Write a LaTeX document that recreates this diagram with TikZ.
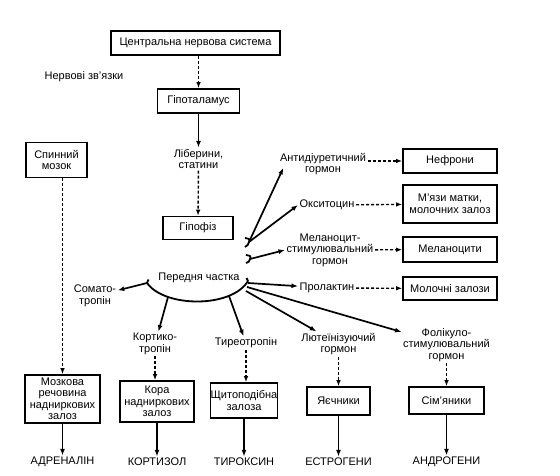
\documentclass[tikz,border=0pt]{standalone}
\usepackage{fontspec}
\setmainfont{Liberation Sans}
\usetikzlibrary{positioning, arrows.meta}

\begin{document}
\begin{tikzpicture}[
        x=1pt, y=-1pt,
        font=\fontsize{11}{11.5}\selectfont,
        box/.style={rectangle, draw=black, line width=1.6pt, fill=white, align=center, inner sep=0pt},
        lbl/.style={align=center, inner sep=1.5pt},
        arrow/.style={-{Latex[length=6.5pt,width=5pt]}, line width=1.7pt},
        dasharrow/.style={-{Latex[length=6pt,width=4.5pt]}, line width=1.4pt, dash pattern=on 3pt off 2pt},
        lobe/.style={line width=1.8pt}
        ]
        \useasboundingbox (0,0) rectangle (560,476);

        % top of the chain
        \node[box, minimum width=169pt, minimum height=24pt] (cns) at (195.5,43) {Центральна нервова система};
        \node[lbl] (nerv) at (84,77) {Нервові зв’язки};
        \node[box, minimum width=82pt, minimum height=24pt] (hypo) at (198.5,101) {Гіпоталамус};
        \node[lbl] (liber) at (198.5,159) {Ліберини,\\статини};
        \node[box, minimum width=70pt, minimum height=23pt] (hypoph) at (198,228) {Гіпофіз};
        \node[box, minimum width=61pt, minimum height=35pt] (spinal) at (56.5,160) {Спинний\\мозок};

        % posterior lobe targets
        \node[lbl] (adh) at (323,164) {Антидіуретичний\\гормон};
        \node[lbl] (oxy) at (327,205) {Окситоцин};
        \node[lbl] (msh) at (330,250) {Меланоцит-\\стимулювальний\\гормон};
        \node[lbl] (prl) at (327,288) {Пролактин};
        \node[box, minimum width=94pt, minimum height=24pt] (nefr) at (450,161) {Нефрони};
        \node[box, minimum width=94pt, minimum height=38pt] (myaz) at (450,204) {М’язи матки,\\молочних залоз};
        \node[box, minimum width=94pt, minimum height=25pt] (melan) at (450,249.5) {Меланоцити};
        \node[box, minimum width=94pt, minimum height=23pt] (moloch) at (450,288.5) {Молочні залози};

        % anterior lobe
        \node[lbl] (anter) at (199,278) {Передня частка};
        \node[lbl] (somato) at (95,296) {Сомато-\\тропін};
        \node[lbl] (cort) at (155,344) {Кортико-\\тропін};
        \node[lbl] (tyreo) at (246,343) {Тиреотропін};
        \node[lbl] (lut) at (338.5,344) {Лютеїнізуючий\\гормон};
        \node[lbl] (fol) at (446.5,345) {Фолікуло-\\стимулювальний\\гормон};

        % glands
        \node[box, minimum width=75pt, minimum height=48pt] (mozk) at (62.5,399) {Мозкова\\речовина\\надниркових\\залоз};
        \node[box, minimum width=74pt, minimum height=41pt] (kora) at (157,401.5) {Кора\\надниркових\\залоз};
        \node[box, minimum width=66pt, minimum height=35pt] (shchyt) at (244,400.5) {Щитоподібна\\залоза};
        \node[box, minimum width=63pt, minimum height=28pt] (yaye) at (338.5,401) {Яєчники};
        \node[box, minimum width=75pt, minimum height=27pt] (simya) at (446.5,400.5) {Сім’яники};

        % hormones
        \node[lbl] (adren) at (62.5,462) {АДРЕНАЛІН};
        \node[lbl] (kortiz) at (157,462) {КОРТИЗОЛ};
        \node[lbl] (tyrox) at (244,462) {ТИРОКСИН};
        \node[lbl] (estr) at (338.5,462) {ЕСТРОГЕНИ};
        \node[lbl] (andr) at (446.5,462) {АНДРОГЕНИ};

        % lobe shapes
        \coordinate (antL) at (147,283);
        \coordinate (antR) at (248,281);
        \draw[lobe] (antL) .. controls (165,308) and (232,308) .. (antR);
        \draw[lobe] (antL) -- ++(1.5,-3.5);
        \draw[lobe] (antR) -- ++(-1.5,-3);
        \coordinate (hook1) at (249,242);
        \coordinate (hook2) at (250,259);
        \draw[lobe] (245,238) .. controls (250,239) .. (hook1) .. controls (248,245) .. (245,247);
        \draw[lobe] (246,255) .. controls (251,256) .. (hook2) .. controls (249,262) .. (246,263);
        \coordinate (cortS) at (168,297);
        \coordinate (tyreoS) at (229,296);
        \coordinate (prlS) at (248,283);
        \coordinate (folS) at (247,287);
        \coordinate (lutS) at (246,291);

        % connectors
        \draw[dasharrow] (hypo.north |- cns.south) -- (hypo.north);
        \draw[arrow] (hypo) -- (liber);
        \draw[dasharrow] (liber) -- (hypoph);
        \draw[dasharrow] (spinal.south -| mozk.north) -- (mozk.north);

        \draw[arrow] (hook1) -- ([xshift=5pt, yshift=-4pt]adh.west);
        \draw[arrow] (hook1) -- (oxy.west);
        \draw[arrow] (hook2) -- (msh.west);
        \draw[dasharrow] (adh.east |- nefr) -- (nefr);
        \draw[dasharrow] (oxy) -- (myaz);
        \draw[dasharrow] (msh) -- (melan);
        \draw[dasharrow] (prl) -- (moloch);

        \draw[arrow] (antL) -- (somato);
        \draw[arrow] (cortS) -- (cort);
        \draw[arrow] (tyreoS) -- (tyreo);
        \draw[arrow] (prlS) -- (prl);
        \draw[arrow] (lutS) -- (lut);
        \draw[arrow] (folS) -- (fol);

        \draw[dasharrow] (cort.south) -- (cort.south |- kora.north);
        \draw[dasharrow] (tyreo.south) -- (tyreo.south |- shchyt.north);
        \draw[dasharrow] (lut) -- (yaye);
        \draw[dasharrow] (fol) -- (simya);

        \draw[arrow] (mozk) -- (adren);
        \draw[arrow] (kora) -- (kortiz);
        \draw[arrow] (shchyt) -- (tyrox);
        \draw[arrow] (yaye) -- (estr);
        \draw[arrow] (simya) -- (andr);
    \end{tikzpicture}
\end{document}
